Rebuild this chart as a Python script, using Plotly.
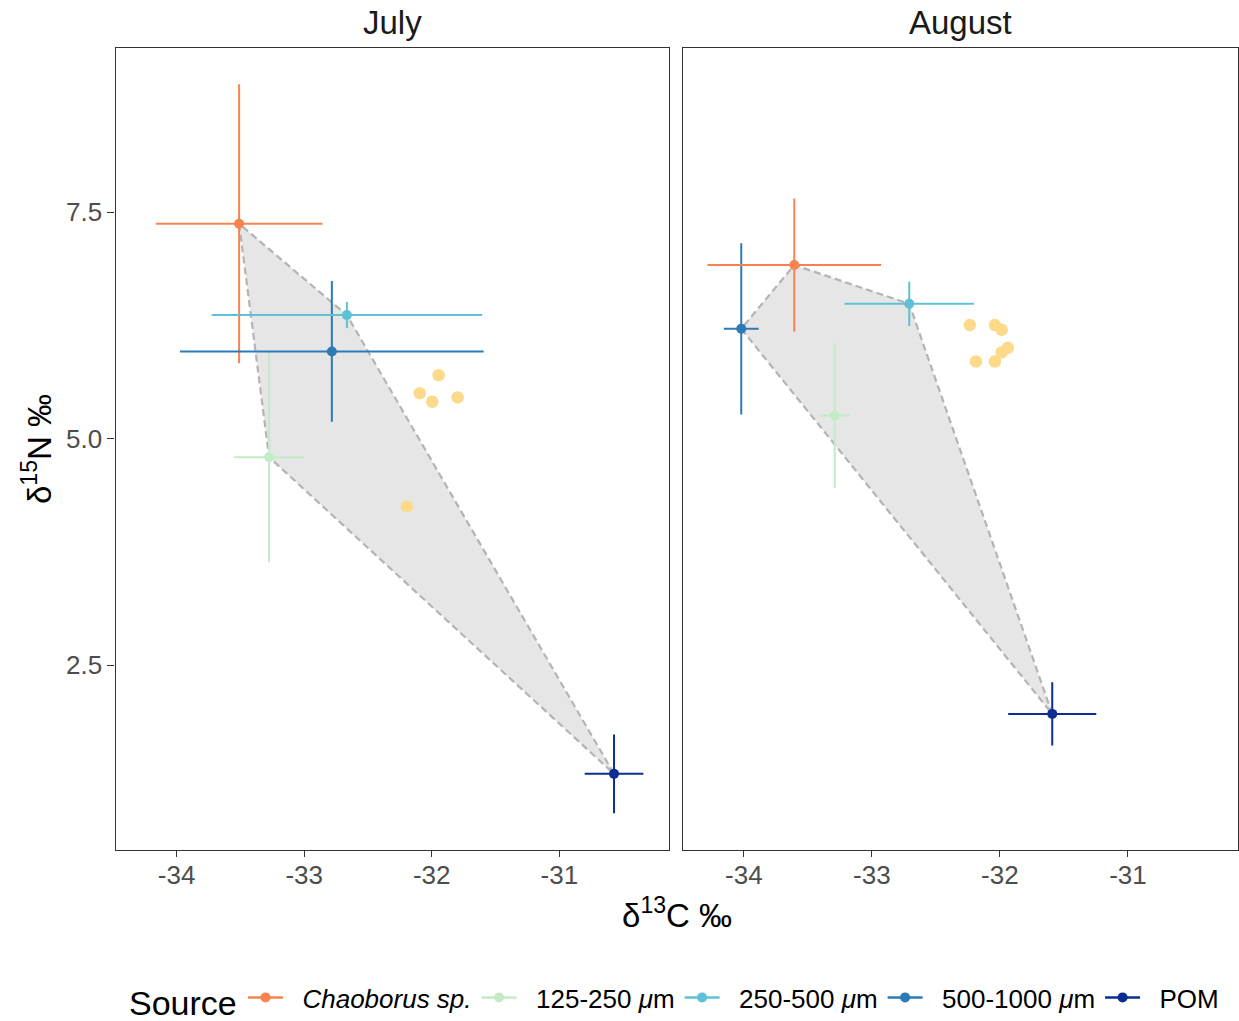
import plotly.graph_objects as go

# ---- data -------------------------------------------------------------
months = ["July", "August"]
sources = ["Chaoborus sp.", "125-250 μm", "250-500 μm", "500-1000 μm", "POM"]
source_labels = ["<i>Chaoborus sp.</i>", "125-250 <i>μ</i>m", "250-500 <i>μ</i>m",
                 "500-1000 <i>μ</i>m", "POM"]
source_colors = ["#F8834E", "#C3EBC6", "#5EC1D5", "#2C7BB6", "#0B2E94"]

# source means and standard deviations (δ13C, δ15N)
july_d13c = [-33.51, -33.275, -32.665, -32.783, -30.571]
july_d15n = [7.375, 4.798, 6.366, 5.965, 1.301]
july_sd_c = [0.653, 0.276, 1.06, 1.19, 0.23]
july_sd_n = [1.54, 1.16, 0.144, 0.777, 0.434]

aug_d13c = [-33.606, -33.290, -32.708, -34.020, -31.591]
aug_d15n = [6.919, 5.258, 6.491, 6.215, 1.963]
aug_sd_c = [0.678, 0.12, 0.505, 0.136, 0.344]
aug_sd_n = [0.735, 0.80, 0.245, 0.945, 0.35]

# consumer samples
july_cons_c = [-31.946, -32.094, -31.996, -31.797, -32.195]
july_cons_n = [5.703, 5.504, 5.409, 5.457, 4.254]
aug_cons_c = [-32.235, -32.039, -31.986, -31.938, -31.986, -32.187, -32.039]
aug_cons_n = [6.256, 6.256, 6.204, 6.005, 5.954, 5.854, 5.854]
consumer_color = "#FDD98A"

x_tickvals = [-34, -33, -32, -31]
x_ticktext = ["-34", "-33", "-32", "-31"]
y_tickvals = [2.5, 5.0, 7.5]
y_ticktext = ["2.5", "5.0", "7.5"]

x_range = [-34.479, -30.144]
y_range = [0.466, 9.315]

W, H = 1239, 1021
FONT = "Liberation Sans, Arial, Helvetica, sans-serif"
PAD = "\u00a0\u00a0"  # small gap between legend key and its label


def convex_hull(xs, ys):
    pts = sorted(set(zip(xs, ys)))

    def cross(o, a, b):
        return (a[0] - o[0]) * (b[1] - o[1]) - (a[1] - o[1]) * (b[0] - o[0])

    lower, upper = [], []
    for p in pts:
        while len(lower) >= 2 and cross(lower[-2], lower[-1], p) <= 0:
            lower.pop()
        lower.append(p)
    for p in reversed(pts):
        while len(upper) >= 2 and cross(upper[-2], upper[-1], p) <= 0:
            upper.pop()
        upper.append(p)
    hull = lower[:-1] + upper[:-1]
    hull.append(hull[0])
    return [p[0] for p in hull], [p[1] for p in hull]


panels = [
    dict(c=july_d13c, n=july_d15n, sc=july_sd_c, sn=july_sd_n,
         cc=july_cons_c, cn=july_cons_n, xa="x", ya="y"),
    dict(c=aug_d13c, n=aug_d15n, sc=aug_sd_c, sn=aug_sd_n,
         cc=aug_cons_c, cn=aug_cons_n, xa="x2", ya="y2"),
]

fig = go.Figure()

# mixing polygon (hull of source means)
for p in panels:
    hx, hy = convex_hull(p["c"], p["n"])
    fig.add_trace(go.Scatter(
        x=hx, y=hy, mode="lines", fill="toself", fillcolor="rgb(230,230,230)",
        line=dict(color="rgb(180,180,180)", width=2.2, dash="7px,4px"),
        xaxis=p["xa"], yaxis=p["ya"], showlegend=False, hoverinfo="skip"))

# consumers
for p in panels:
    fig.add_trace(go.Scatter(
        x=p["cc"], y=p["cn"], mode="markers",
        marker=dict(color=consumer_color, size=12.5, line=dict(width=0)),
        xaxis=p["xa"], yaxis=p["ya"], showlegend=False, hoverinfo="skip"))

# vertical error bars
for p in panels:
    for i, col in enumerate(source_colors):
        fig.add_trace(go.Scatter(
            x=[p["c"][i]], y=[p["n"][i]], mode="markers",
            marker=dict(color=col, size=1),
            error_y=dict(type="data", array=[p["sn"][i]], width=0,
                         thickness=2, color=col),
            xaxis=p["xa"], yaxis=p["ya"], showlegend=False, hoverinfo="skip"))

# horizontal error bars
for p in panels:
    for i, col in enumerate(source_colors):
        fig.add_trace(go.Scatter(
            x=[p["c"][i]], y=[p["n"][i]], mode="markers",
            marker=dict(color=col, size=1),
            error_x=dict(type="data", array=[p["sc"][i]], width=0,
                         thickness=2, color=col),
            xaxis=p["xa"], yaxis=p["ya"], showlegend=False, hoverinfo="skip"))

# source means
for k, p in enumerate(panels):
    for i, col in enumerate(source_colors):
        fig.add_trace(go.Scatter(
            x=[p["c"][i]], y=[p["n"][i]], mode="lines+markers",
            marker=dict(color=col, size=10, line=dict(width=0)),
            line=dict(color=col, width=2.5),
            name=PAD + source_labels[i], legendgroup=sources[i],
            showlegend=(k == 0),
            xaxis=p["xa"], yaxis=p["ya"]))

axis_common = dict(
    showgrid=False, zeroline=False, showline=True, mirror=True,
    linecolor="#333333", linewidth=1.3,
    ticks="outside", ticklen=6, tickwidth=1.3, tickcolor="#333333",
    tickfont=dict(family=FONT, size=26, color="#4D4D4D"),
)

y0 = 1 - 849.5 / H
y1 = 1 - 48 / H

fig.update_layout(
    width=W, height=H,
    margin=dict(l=0, r=0, t=0, b=0),
    paper_bgcolor="white", plot_bgcolor="white",
    font=dict(family=FONT, color="black"),
    xaxis=dict(axis_common, domain=[115.5 / W, 668.5 / W], range=x_range,
               tickvals=x_tickvals, ticktext=x_ticktext, anchor="y",
               ticklabelstandoff=-4),
    xaxis2=dict(axis_common, domain=[682.5 / W, 1237.5 / W], range=x_range,
                tickvals=x_tickvals, ticktext=x_ticktext, anchor="y2",
                ticklabelstandoff=-4),
    yaxis=dict(axis_common, domain=[y0, y1], range=y_range,
               tickvals=y_tickvals, ticktext=y_ticktext, anchor="x", ticklen=7),
    yaxis2=dict(axis_common, domain=[y0, y1], range=y_range,
                tickvals=y_tickvals, showticklabels=False, ticks="",
                anchor="x2", matches="y"),
    showlegend=True,
    legend=dict(
        orientation="h", x=243 / W, xanchor="left", y=0.0, yanchor="bottom",
        font=dict(family=FONT, size=26, color="black"),
        bgcolor="rgba(0,0,0,0)", borderwidth=0, itemwidth=35,
    ),
    annotations=[
        dict(text=months[0], x=(115.5 + 668.5) / 2 / W, y=1 - 22 / H,
             xref="paper", yref="paper", showarrow=False,
             xanchor="center", yanchor="middle",
             font=dict(family=FONT, size=33, color="#1A1A1A")),
        dict(text=months[1], x=(682.5 + 1237.5) / 2 / W, y=1 - 22 / H,
             xref="paper", yref="paper", showarrow=False,
             xanchor="center", yanchor="middle",
             font=dict(family=FONT, size=33, color="#1A1A1A")),
        dict(text="δ<sup>13</sup>C ‰", x=676.5 / W, y=1 - 913 / H,
             xref="paper", yref="paper", showarrow=False,
             xanchor="center", yanchor="middle",
             font=dict(family=FONT, size=33, color="black")),
        dict(text="δ<sup>15</sup>N ‰", x=37 / W, y=1 - 449 / H,
             xref="paper", yref="paper", showarrow=False, textangle=-90,
             xanchor="center", yanchor="middle",
             font=dict(family=FONT, size=33, color="black")),
        # legend title
        dict(text="Source", x=127 / W, y=1 - 1003 / H,
             xref="paper", yref="paper", showarrow=False,
             xanchor="left", yanchor="middle",
             font=dict(family=FONT, size=34, color="black")),
    ],
)

fig.write_html("out.html")
